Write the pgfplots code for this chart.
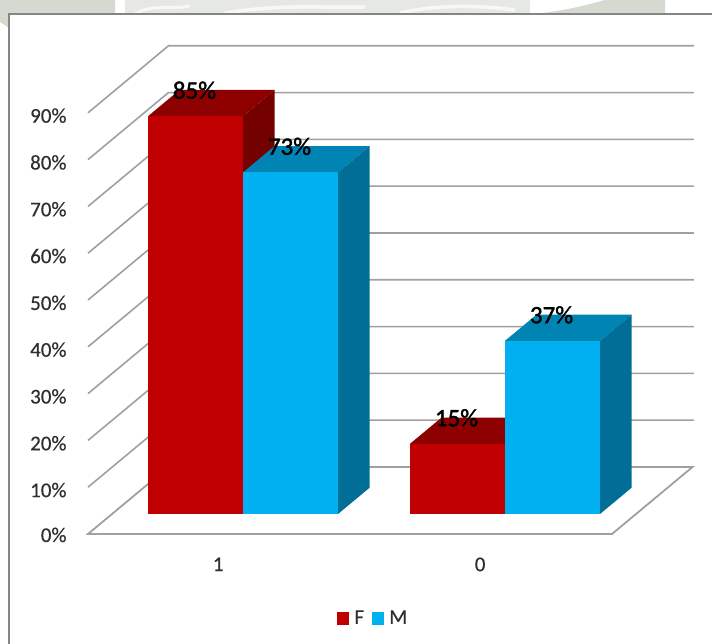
\documentclass[border=0pt]{standalone}
\usepackage{pgfplots}
\pgfplotsset{compat=1.18}
\usepackage{fontspec}
\setmainfont{Carlito}[FakeBold=0.3]
\newfontfamily\heavyfont[FakeBold=1.6]{Carlito}
\definecolor{redfront}{HTML}{C00000}
\definecolor{redtop}{HTML}{8E0000}
\definecolor{redside}{HTML}{750000}
\definecolor{bluefront}{HTML}{00B0F0}
\definecolor{bluetop}{HTML}{0084B4}
\definecolor{blueside}{HTML}{006E96}
\definecolor{gridgrey}{HTML}{A0A0A0}
\definecolor{framegrey}{HTML}{858585}
\definecolor{labelgrey}{HTML}{2E2E2E}
\definecolor{paperdark}{HTML}{D5DAD1}
\definecolor{paperlight}{HTML}{E6E9E3}
% one cuboid: x from #1 to #2, height #3, faces #4 (front) #5 (top) #6 (side)
\newcommand{\cuboid}[6]{%
  \addplot3[fill=#5,draw=none] coordinates {(#1,0.2985,#3) (#2,0.2985,#3) (#2,0.69,#3) (#1,0.69,#3)} -- cycle;
  \addplot3[fill=#6,draw=none] coordinates {(#2,0.2985,0) (#2,0.69,0) (#2,0.69,#3) (#2,0.2985,#3)} -- cycle;
  \addplot3[fill=#4,draw=none] coordinates {(#1,0.2985,0) (#2,0.2985,0) (#2,0.2985,#3) (#1,0.2985,#3)} -- cycle;
}
% value label sitting on the rear edge of a cuboid's top face
\newcommand{\valuelabel}[2]{%
  \node[yshift=26pt,xshift=-1pt,font=\fontsize{25}{25}\heavyfont,text=black,inner sep=0pt]
    at (axis cs:#1,0.2985,#2) {#2\%};
}
% wall line at height #1: along the left wall, then along the back wall
\newcommand{\wallline}[1]{%
  \addplot3[gridgrey,line width=1.6pt] coordinates {(-0.5,0,#1) (-0.5,1,#1) (1.505,1,#1)};
}
\begin{document}
\begin{tikzpicture}[x=1pt,y=1pt]
\useasboundingbox (0,0) rectangle (712,644);
\fill[white] (0,0) rectangle (712,644);
% printed paper showing above the chart frame
\fill[paperdark] (0,644) -- (115,644) -- (115,630) -- (9,630) -- (9,616) -- (0,622) -- cycle;
\fill[paperlight] (125,644) rectangle (530,630);
\fill[paperdark] (535,630) .. controls (570,634) and (590,640) .. (605,644) -- (665,644) -- (665,630) -- cycle;
\draw[white,opacity=0.7,line width=3pt] (135,630) .. controls (150,640) and (170,634) .. (190,638);
\draw[white,opacity=0.7,line width=3.5pt] (225,631) .. controls (280,640) and (320,636) .. (365,637);
\draw[white,opacity=0.7,line width=3.5pt] (400,631) .. controls (430,638) and (470,640) .. (515,634);
% chart frame
\draw[framegrey,line width=2.4pt] (9,0) -- (9,630) -- (712,630);
\begin{axis}[
  at={(219pt,110pt)},anchor=origin,
  x={(262pt,0pt)},y={(80.5pt,67pt)},z={(0pt,4.68pt)},
  xmin=-0.5,xmax=1.5,ymin=0,ymax=1,zmin=0,zmax=90,
  clip=false,
  axis line style={draw=none},
  major tick length=0pt,
  xtick={0,1},xticklabels={1,0},
  ytick=\empty,
  ztick={0,10,...,90},
  zticklabel={\pgfmathprintnumber{\tick}\%},
  ticklabel style={font=\fontsize{21}{21}\selectfont,text=labelgrey},
  /pgf/number format/assume math mode=true,
  xtick pos=left,ztick pos=left,
  x tick label style={yshift=-20pt,xshift=4pt},
  z tick label style={xshift=-18pt,yshift=5pt},
  legend columns=2,
  legend style={draw=none,fill=none,at={(0.5,-0.1)},anchor=center,
    xshift=-17pt,yshift=-35pt,
    font=\fontsize{21}{21}\selectfont,text=labelgrey,
    /tikz/every even column/.append style={column sep=6pt}},
  legend image code/.code={\fill[#1] (0pt,-6pt) rectangle (11pt,6pt);
    \path[draw=none] (0pt,0pt) -- (15pt,0pt);},
]
\addlegendimage{redfront}\addlegendentry{F}
\addlegendimage{bluefront}\addlegendentry{M}
% floor
\addplot3[gridgrey,line width=1.8pt] coordinates {(-0.5,0,0) (1.5,0,0) (1.5,1,0) (-0.5,1,0)} -- cycle;
\wallline{10}\wallline{20}\wallline{30}\wallline{40}\wallline{50}
\wallline{60}\wallline{70}\wallline{80}\wallline{90}
% bars
\cuboid{-0.3626}{0}{85}{redfront}{redtop}{redside}
\cuboid{0}{0.3626}{73}{bluefront}{bluetop}{blueside}
\cuboid{0.6374}{1}{15}{redfront}{redtop}{redside}
\cuboid{1}{1.3626}{37}{bluefront}{bluetop}{blueside}
% value labels
\valuelabel{-0.1813}{85}
\valuelabel{0.1813}{73}
\valuelabel{0.8187}{15}
\valuelabel{1.1813}{37}
\end{axis}
\end{tikzpicture}
\end{document}
